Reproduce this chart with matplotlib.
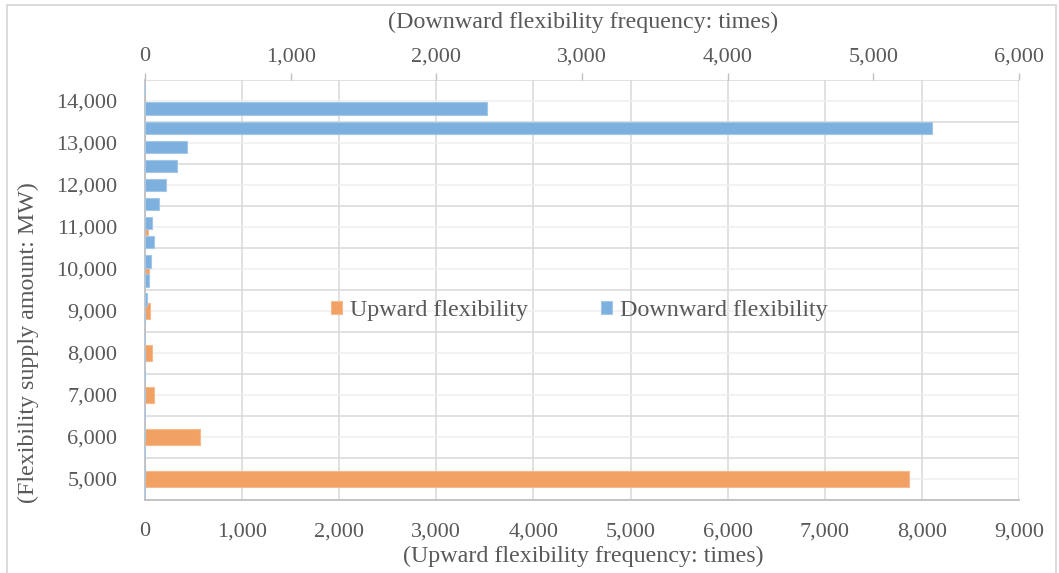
import numpy as np
import matplotlib
matplotlib.use("Agg")
import matplotlib.pyplot as plt
from matplotlib.patches import Rectangle
from matplotlib.ticker import FuncFormatter

# upward flexibility: primary axis (bottom), one category per 1,000 MW
up_levels = [5000, 6000, 7000, 8000, 9000, 10000, 11000, 12000, 13000, 14000]
up_counts = [7870, 566, 96, 75, 48, 38, 28, 0, 0, 0]

# downward flexibility: secondary axis (top), own finer categories, listed top -> bottom
down_counts = [0, 2350, 5400, 285, 221, 142, 94, 50, 59, 39, 27, 12,
               0, 0, 0, 0, 0, 0, 0, 0, 0, 0]

up_ticks = [0, 1000, 2000, 3000, 4000, 5000, 6000, 7000, 8000, 9000]
down_ticks = [0, 1000, 2000, 3000, 4000, 5000, 6000]

ORANGE = "#F2A164"
BLUE = "#7DB0DE"
TXT = "#595959"
GRID = "#D9D9D9"
GRID_MINOR = "#EFEFEF"
AXIS = "#BFBFBF"

plt.rcParams["font.family"] = ["Liberation Serif", "DejaVu Serif"]
plt.rcParams["font.size"] = 16
TITLE_SIZE = 17.3

W, H = 1059, 573
fig = plt.figure(figsize=(W / 100, H / 100), dpi=100)

left, right, top, bottom = 145, 1019, 80, 500
pos = [left / W, 1 - bottom / H, (right - left) / W, (bottom - top) / H]

thousands = FuncFormatter(lambda v, p: f"{int(v):,}")

# primary axes: upward
ax = fig.add_axes(pos)
y = np.arange(len(up_levels))
ax.barh(y, up_counts, height=0.4, color=ORANGE, edgecolor="#F6B98C",
        linewidth=0.8, label="Upward flexibility", zorder=2)
ax.set_xlim(0, 9000)
ax.set_ylim(-0.5, len(up_levels) - 0.5)
ax.set_xticks(up_ticks)
ax.xaxis.set_major_formatter(thousands)
ax.set_yticks(y)
ax.set_yticklabels([f"{v:,}" for v in up_levels])
ax.set_yticks(np.arange(-0.5, len(up_levels)), minor=True)
ax.tick_params(axis="x", length=0, pad=16, colors=TXT)
ax.tick_params(axis="y", which="both", length=0, pad=20, colors=TXT)
ax.grid(axis="x", color=GRID, linewidth=1.1, zorder=0)
ax.grid(axis="y", which="major", color=GRID_MINOR, linewidth=1.1, zorder=0)
ax.grid(axis="y", which="minor", color=GRID, linewidth=1.1, zorder=0)
ax.set_axisbelow(True)
for s in ["top", "right"]:
    ax.spines[s].set_visible(False)
for s in ["left", "bottom"]:
    ax.spines[s].set_color(AXIS)
    ax.spines[s].set_linewidth(1.3)

# secondary axes: downward
ax2 = fig.add_axes(pos, frameon=False)
y2 = np.arange(len(down_counts))
ax2.barh(y2, down_counts, height=0.65, color=BLUE, edgecolor="#A3C7E8",
         linewidth=0.8, label="Downward flexibility", zorder=3)
ax2.set_xlim(0, 6000)
ax2.set_ylim(len(down_counts) - 0.5, -0.5)
ax2.xaxis.tick_top()
ax2.set_xticks(down_ticks)
ax2.xaxis.set_major_formatter(thousands)
ax2.tick_params(axis="x", direction="out", length=5, width=1,
                pad=5, labelcolor=TXT, color=AXIS)
ax2.set_yticks([])
ax2.spines["top"].set_visible(True)
ax2.spines["top"].set_color(AXIS)
ax2.spines["top"].set_linewidth(1.3)

h1, l1 = ax.get_legend_handles_labels()
h2, l2 = ax2.get_legend_handles_labels()
leg = ax2.legend(h1 + h2, l1 + l2, loc="center", bbox_to_anchor=(0.497, 0.452),
                 ncol=2, frameon=False, handlelength=0.45, handleheight=0.45,
                 handletextpad=0.35, columnspacing=3.05, fontsize=TITLE_SIZE)
for t in leg.get_texts():
    t.set_color(TXT)

fig.text(583 / W, 1 - 22 / H, "(Downward flexibility frequency: times)",
         ha="center", va="center", color=TXT, fontsize=TITLE_SIZE)
fig.text(583 / W, 1 - 556 / H, "(Upward flexibility frequency: times)",
         ha="center", va="center", color=TXT, fontsize=TITLE_SIZE)
fig.text(28 / W, 1 - 343 / H, "(Flexibility supply amount: MW)",
         ha="center", va="center", rotation=90, color=TXT, fontsize=TITLE_SIZE)

fig.patches.append(Rectangle((7 / W, -0.02), 1049 / W, 1 - 5 / H + 0.02,
                             transform=fig.transFigure, fill=False,
                             edgecolor=GRID, linewidth=1.3))

fig.savefig("out.png", dpi=100)
